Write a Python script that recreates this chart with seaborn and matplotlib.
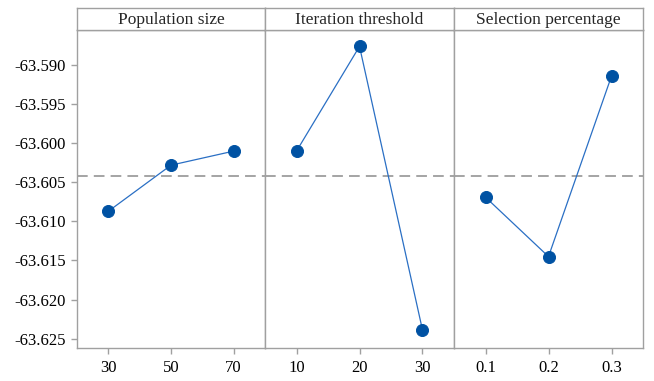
import matplotlib
matplotlib.use("Agg")
import matplotlib.pyplot as plt
import seaborn as sns
import pandas as pd
import numpy as np
from matplotlib.ticker import FuncFormatter

# main effects for means
factors = ["Population size", "Iteration threshold", "Selection percentage"]
pop_levels = ["30", "50", "70"]
pop_means = [-63.6087, -63.6028, -63.6010]
iter_levels = ["10", "20", "30"]
iter_means = [-63.6010, -63.5876, -63.6239]
sel_levels = ["0.1", "0.2", "0.3"]
sel_means = [-63.6069, -63.6145, -63.5914]
y_ticks = [-63.590, -63.595, -63.600, -63.605, -63.610, -63.615, -63.620, -63.625]

df = pd.DataFrame({
    "factor": np.repeat(factors, 3),
    "level": pop_levels + iter_levels + sel_levels,
    "mean": pop_means + iter_means + sel_means,
})
grand_mean = df["mean"].mean()

sns.set_style("white")
plt.rcParams["font.family"] = ["Liberation Serif", "DejaVu Serif"]

LINE_C = "#2a6fc4"
MARK_C = "#0052a3"
FRAME_C = "#a0a0a0"

W, H = 654, 381
fig = plt.figure(figsize=(W / 100, H / 100), dpi=100)
edges = [77, 265, 454, 643]
ax_top, ax_bot, strip_top = 30, 348, 8

axes = []
for i, name in enumerate(factors):
    l, r = edges[i], edges[i + 1]
    ax = fig.add_axes([l / W, 1 - ax_bot / H, (r - l) / W, (ax_bot - ax_top) / H],
                      sharey=axes[0] if axes else None)
    sub = df[df["factor"] == name]
    sns.lineplot(data=sub, x="level", y="mean", sort=False, color=LINE_C,
                 linewidth=0.9, ax=ax)
    sns.scatterplot(data=sub, x="level", y="mean", color=MARK_C, edgecolor=MARK_C,
                    s=75, zorder=3, ax=ax)
    ax.axhline(grand_mean, color="#8c8c8c", linewidth=1.1, dashes=(7, 4), zorder=1)
    ax.set_xlim(-0.5, 2.5)
    ax.set_xlabel("")
    ax.set_ylabel("")
    for sp in ax.spines.values():
        sp.set_color(FRAME_C)
        sp.set_linewidth(1.0)
    ax.tick_params(axis="x", direction="out", length=4, width=1, color=FRAME_C,
                   labelsize=12, labelcolor="black", pad=5, bottom=True)
    if i == 0:
        ax.set_yticks(y_ticks)
        ax.yaxis.set_major_formatter(FuncFormatter(lambda v, p: f"{v:.3f}"))
        ax.tick_params(axis="y", direction="out", length=4, width=1, color=FRAME_C,
                       labelsize=12, labelcolor="black", pad=4, left=True)
    else:
        ax.tick_params(axis="y", left=False, labelleft=False)
    axes.append(ax)

    strip = fig.add_axes([l / W, 1 - ax_top / H, (r - l) / W, (ax_top - strip_top) / H])
    strip.set_xticks([])
    strip.set_yticks([])
    for sp in strip.spines.values():
        sp.set_color(FRAME_C)
        sp.set_linewidth(1.0)
    strip.text(0.5, 0.45, name, ha="center", va="center", fontsize=12.5,
               transform=strip.transAxes)

axes[0].set_ylim(-63.6262, -63.5855)

fig.savefig("out.png", dpi=100)
